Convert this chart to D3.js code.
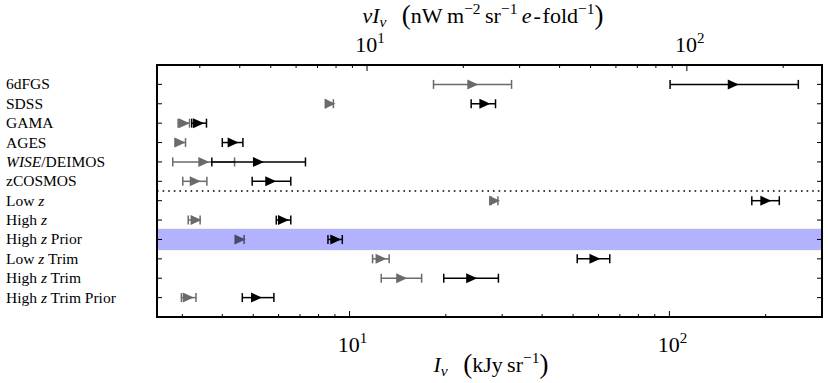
<!DOCTYPE html>
<html><head><meta charset="utf-8">
<script src="https://cdn.jsdelivr.net/npm/d3@7"></script>
<style>
body{margin:0;background:#fff;}
text{font-family:"Liberation Serif","DejaVu Serif",serif;fill:#000;}
</style></head>
<body><svg id="c" width="830" height="383"></svg>
<script>
const categories = ["6dFGS","SDSS","GAMA","AGES","WISE/DEIMOS","zCOSMOS","Low z","High z","High z Prior","Low z Trim","High z Trim","High z Trim Prior"];
const grayCenter = [24.2, 8.66, 3.03, 2.94, 3.49, 3.28, 28.3, 3.30, 4.53, 12.5, 14.5, 3.12];
const grayLo     = [18.3, 8.45, 2.91, 2.85, 2.80, 3.01, 27.7, 3.13, 4.40, 11.8, 12.56, 2.98];
const grayHi     = [32.1, 8.90, 3.16, 3.07, 4.37, 3.58, 29.1, 3.41, 4.68, 13.3, 16.8, 3.31];
const blackCenter= [157.8, 26.4, 3.36, 4.31, 5.17, 5.65, 199.5, 6.19, 9.02, 58.3, 24.0, 5.10];
const blackLo    = [100.5, 24.0, 3.21, 4.00, 3.71, 4.96, 181, 5.90, 8.56, 51.5, 19.7, 4.62];
const blackHi    = [253, 28.6, 3.57, 4.64, 7.28, 6.55, 220.6, 6.55, 9.49, 65.1, 29.2, 5.80];
const highlightRow = "High z Prior";
const separatorAfter = "zCOSMOS";
const xDomain = [2.5, 300];
const nuFactor = 0.8818; // nu*I_nu = 0.8818 * I_nu  (3.4 micron)
const xTickValues = [10, 100];

const svg = d3.select("#c");
const L = 157, R = 822, T = 65, B = 317;
const x = d3.scaleLog().domain(xDomain).range([L, R]);
const xTop = d3.scaleLog().domain(xDomain.map(d => d * nuFactor)).range([L, R]);
const y = d3.scaleLinear().domain([0, categories.length + 1]).range([T, B]);
const rowY = (i) => y(i + 1);

const hi = categories.indexOf(highlightRow);
svg.append("rect").attr("x", L).attr("width", R - L)
  .attr("y", y(hi + 1 - 0.55)).attr("height", y(hi + 1 + 0.55) - y(hi + 1 - 0.55))
  .attr("fill", "#b2b2ff");

const si = categories.indexOf(separatorAfter);
svg.append("line").attr("x1", L).attr("x2", R).attr("y1", y(si + 1.5)).attr("y2", y(si + 1.5))
  .attr("stroke", "#000").attr("stroke-width", 1.6).attr("stroke-dasharray", "1.6,4");

function logTicks(scale) {
  const [a, b] = scale.domain();
  const out = [];
  for (let e = Math.floor(Math.log10(a)); e <= Math.ceil(Math.log10(b)); e++) {
    for (let m = 1; m < 10; m++) {
      const v = m * Math.pow(10, e);
      if (v >= a && v <= b) out.push({v, major: m === 1});
    }
  }
  return out;
}
const gT = svg.append("g");
logTicks(x).forEach(t => {
  const len = t.major ? 6 : 3;
  gT.append("line").attr("x1", x(t.v)).attr("x2", x(t.v)).attr("y1", B).attr("y2", B - len).attr("stroke", "#000").attr("stroke-width", 1);
});
logTicks(xTop).forEach(t => {
  const len = t.major ? 6 : 3;
  gT.append("line").attr("x1", xTop(t.v)).attr("x2", xTop(t.v)).attr("y1", T).attr("y2", T + len).attr("stroke", "#000").attr("stroke-width", 1);
});
categories.forEach((c, i) => {
  gT.append("line").attr("x1", L).attr("x2", L + 5).attr("y1", rowY(i)).attr("y2", rowY(i)).attr("stroke", "#000");
  gT.append("line").attr("x1", R).attr("x2", R - 5).attr("y1", rowY(i)).attr("y2", rowY(i)).attr("stroke", "#000");
});

function powLabel(sel, v, px, py) {
  const e = Math.round(Math.log10(v));
  const t = sel.append("text").attr("x", px).attr("y", py).attr("text-anchor", "middle").attr("font-size", 22);
  t.append("tspan").text("10");
  t.append("tspan").attr("dy", -9).attr("font-size", 15).text(e);
}
xTickValues.forEach(v => powLabel(svg, v, x(v) + 3, 352));
xTickValues.forEach(v => powLabel(svg, v, xTop(v) + 3, 52));

function drawSeries(center, lo, hi, color, opacity) {
  const g = svg.append("g").attr("opacity", opacity);
  categories.forEach((c, i) => {
    const yy = rowY(i);
    g.append("line").attr("x1", x(lo[i])).attr("x2", x(hi[i])).attr("y1", yy).attr("y2", yy).attr("stroke", color).attr("stroke-width", 1.5);
    [lo[i], hi[i]].forEach(v => g.append("line").attr("x1", x(v)).attr("x2", x(v)).attr("y1", yy - 4.5).attr("y2", yy + 4.5).attr("stroke", color).attr("stroke-width", 1.5));
    const cx = x(center[i]);
    g.append("path").attr("d", `M${cx - 5},${yy - 5}L${cx + 6},${yy}L${cx - 5},${yy + 5}Z`).attr("fill", color);
  });
}
drawSeries(grayCenter, grayLo, grayHi, "#000", 0.58);
drawSeries(blackCenter, blackLo, blackHi, "#000", 1);

svg.append("rect").attr("x", L).attr("y", T).attr("width", R - L).attr("height", B - T)
  .attr("fill", "none").attr("stroke", "#000").attr("stroke-width", 2);

categories.forEach((c, i) => {
  const t = svg.append("text").attr("x", 6).attr("y", rowY(i) + 5).attr("font-size", 15.5);
  const parts = c.split(/(\bz\b|WISE)/);
  parts.forEach(p => {
    if (!p) return;
    const s = t.append("tspan").text(p);
    if (p === "z" || p === "WISE") s.attr("font-style", "italic");
  });
});

const FS = 22, SS = 15.5;
const tb = svg.append("text").attr("x", 491).attr("y", 372).attr("text-anchor", "middle").attr("font-size", FS);
tb.append("tspan").attr("font-style", "italic").text("I");
tb.append("tspan").attr("font-style", "italic").attr("font-size", SS).attr("dy", 4).text("ν");
tb.append("tspan").attr("dy", -4).text("\u2002\u2009");
tb.append("tspan").attr("font-size", 27).attr("dy", 1).text("(");
tb.append("tspan").attr("dy", -1).text("kJy\u2009sr");
tb.append("tspan").attr("font-size", SS).attr("dy", -9).text("−1");
tb.append("tspan").attr("font-size", 27).attr("dy", 10).text(")");

const tt = svg.append("text").attr("x", 483).attr("y", 23).attr("text-anchor", "middle").attr("font-size", FS);
tt.append("tspan").attr("font-style", "italic").text("νI");
tt.append("tspan").attr("font-style", "italic").attr("font-size", SS).attr("dy", 4).text("ν");
tt.append("tspan").attr("dy", -4).text("\u2002\u2009");
tt.append("tspan").attr("font-size", 27).attr("dy", 1).text("(");
tt.append("tspan").attr("dy", -1).text("nW\u2009m");
tt.append("tspan").attr("font-size", SS).attr("dy", -9).text("−2");
tt.append("tspan").attr("dy", 9).text("\u2009sr");
tt.append("tspan").attr("font-size", SS).attr("dy", -9).text("−1");
tt.append("tspan").attr("dy", 9).text("\u2009");
tt.append("tspan").attr("font-style", "italic").text("e");
tt.append("tspan").text("\u200a-\u200afold");
tt.append("tspan").attr("font-size", SS).attr("dy", -9).text("−1");
tt.append("tspan").attr("font-size", 27).attr("dy", 10).text(")");
</script></body></html>
